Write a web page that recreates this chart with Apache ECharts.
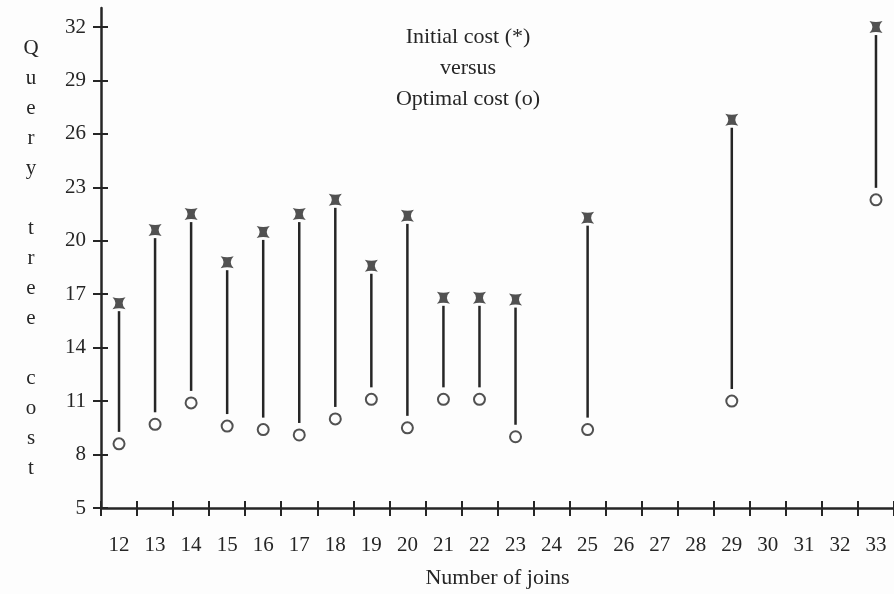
<!DOCTYPE html>
<html>
<head>
<meta charset="utf-8">
<script src="https://cdn.jsdelivr.net/npm/echarts@6/dist/echarts.min.js"></script>
<style>
html,body{margin:0;padding:0;background:#fdfdfd;}
#chart{width:894px;height:594px;}
</style>
</head>
<body>
<div id="chart"></div>
<script>
const categories = ['12','13','14','15','16','17','18','19','20','21','22','23','24','25','26','27','28','29','30','31','32','33'];
const initialCost = [16.5, 20.6, 21.5, 18.8, 20.5, 21.5, 22.3, 18.6, 21.4, 16.8, 16.8, 16.7, null, 21.3, null, null, null, 26.8, null, null, null, 32.0];
const optimalCost = [8.6, 9.7, 10.9, 9.6, 9.4, 9.1, 10.0, 11.1, 9.5, 11.1, 11.1, 9.0, null, 9.4, null, null, null, 11.0, null, null, null, 22.3];
const yTicks = [5, 8, 11, 14, 17, 20, 23, 26, 29, 32];
const titleLines = ['Initial cost (*)', 'versus', 'Optimal cost (o)'];
const xName = 'Number of joins';
const yName = 'Query tree cost';

const ink = '#262626';
const serif = '"Liberation Serif", "DejaVu Serif", serif';

const rangeData = [];
categories.forEach((c, i) => {
  if (initialCost[i] != null && optimalCost[i] != null) rangeData.push([i, optimalCost[i], initialCost[i]]);
});
const starData = categories.map((c, i) => initialCost[i] == null ? null : [i, initialCost[i]]).filter(d => d);
const circleData = categories.map((c, i) => optimalCost[i] == null ? null : [i, optimalCost[i]]).filter(d => d);

// vertical name: letters stacked, blank line between words
const yNameStacked = yName.split('').map(ch => ch === ' ' ? '' : ch).join('\n');

const chart = echarts.init(document.getElementById('chart'), null, {renderer: 'canvas'});
const yMin = 5, yMax = 33.07;
const grid = {left: 101, top: 8, width: 798, height: 501};

chart.setOption({
  backgroundColor: '#fdfdfd',
  animation: false,
  title: {
    text: titleLines.join('\n'),
    left: 463,
    top: 17,
    textAlign: 'center',
    textStyle: {fontFamily: serif, fontSize: 22, fontWeight: 'normal', color: ink, lineHeight: 31}
  },
  grid: grid,
  xAxis: [{
    type: 'category',
    data: categories,
    position: 'bottom',
    boundaryGap: true,
    name: xName,
    nameLocation: 'middle',
    nameGap: 59,
    nameTextStyle: {fontFamily: serif, fontSize: 22, color: ink},
    axisLine: {show: true, lineStyle: {color: ink, width: 2.5}},
    axisTick: {show: true, inside: false, length: 8, lineStyle: {color: ink, width: 2}},
    axisLabel: {fontFamily: serif, fontSize: 21, color: ink, margin: 27, interval: 0},
    splitLine: {show: false}
  }, {
    type: 'category',
    data: categories,
    position: 'bottom',
    boundaryGap: true,
    axisLine: {show: false},
    axisTick: {show: true, inside: true, length: 7, lineStyle: {color: ink, width: 2}},
    axisLabel: {show: false},
    splitLine: {show: false}
  }],
  yAxis: [{
    type: 'value',
    min: yMin,
    max: yMax,
    position: 'left',
    name: yNameStacked,
    nameLocation: 'middle',
    nameRotate: 0,
    nameGap: 70,
    nameTextStyle: {fontFamily: serif, fontSize: 21, color: ink, lineHeight: 30, align: 'center', verticalAlign: 'middle', padding: [10, 0, 0, 0]},
    axisLine: {show: true, lineStyle: {color: ink, width: 2.5}},
    axisTick: {show: true, inside: false, length: 8, customValues: yTicks, lineStyle: {color: ink, width: 2}},
    axisLabel: {fontFamily: serif, fontSize: 21, color: ink, margin: 15, customValues: yTicks},
    splitLine: {show: false}
  }, {
    type: 'value',
    min: yMin,
    max: yMax,
    position: 'left',
    axisLine: {show: false},
    axisTick: {show: true, inside: true, length: 7, customValues: yTicks, lineStyle: {color: ink, width: 2}},
    axisLabel: {show: false, customValues: yTicks},
    splitLine: {show: false}
  }],
  series: [{
    type: 'custom',
    xAxisIndex: 0,
    yAxisIndex: 0,
    data: rangeData,
    encode: {x: 0, y: [1, 2]},
    renderItem: function (params, api) {
      const x = api.value(0);
      const lo = api.coord([x, api.value(1)]);
      const hi = api.coord([x, api.value(2)]);
      return {
        type: 'line',
        shape: {x1: hi[0], y1: hi[1] + 8, x2: lo[0], y2: lo[1] - 12},
        style: {stroke: ink, lineWidth: 2.5}
      };
    },
    z: 2
  }, {
    type: 'scatter',
    name: 'Initial cost',
    data: starData,
    symbol: 'path://M0,0 Q6,2 12,0 Q6.5,6 12,12 Q6,10 0,12 Q5.5,6 0,0 Z',
    symbolSize: [13, 12],
    itemStyle: {color: ink},
    z: 3
  }, {
    type: 'scatter',
    name: 'Optimal cost',
    data: circleData,
    symbol: 'circle',
    symbolSize: 11,
    itemStyle: {color: '#fdfdfd', borderColor: ink, borderWidth: 2},
    z: 3
  }]
});
</script>
</body>
</html>
